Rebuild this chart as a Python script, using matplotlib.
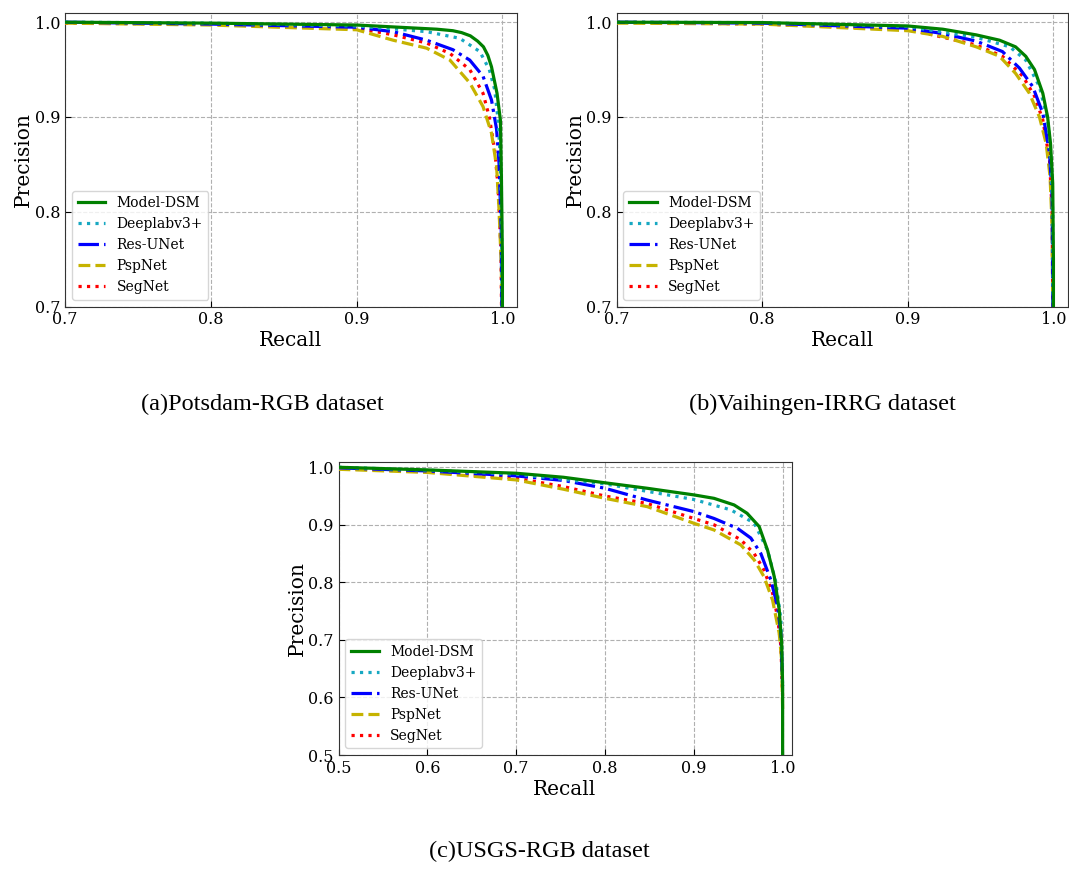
import matplotlib
matplotlib.use('Agg')
import matplotlib.pyplot as plt

names = ['Model-DSM', 'Deeplabv3+', 'Res-UNet', 'PspNet', 'SegNet']
colors = ['green', '#17a8c2', 'blue', '#c6b300', 'red']
styles = ['-', ':', '-.', '--', ':']

# (a) Potsdam-RGB
dsm_a_r = [0.70, 0.80, 0.90, 0.925, 0.955, 0.966, 0.972, 0.978, 0.983, 0.987, 0.990, 0.9925, 0.9963, 0.9986,
           0.9993, 1.0, 1.0]
dsm_a_p = [1.000, 0.999, 0.997, 0.995, 0.9926, 0.991, 0.989, 0.9856, 0.980, 0.974, 0.965, 0.953, 0.925, 0.897,
           0.837, 0.75, 0.60]
deep_a_r = [0.70, 0.80, 0.90, 0.948, 0.9707, 0.9845, 0.991, 0.9947, 0.997, 0.9986, 0.9995, 1.0]
deep_a_p = [1.000, 0.999, 0.996, 0.990, 0.983, 0.969, 0.950, 0.929, 0.897, 0.855, 0.78, 0.60]
res_a_r = [0.70, 0.80, 0.90, 0.925, 0.948, 0.966, 0.9776, 0.9867, 0.9925, 0.996, 0.9977, 0.9992, 1.0]
res_a_p = [1.000, 0.998, 0.9947, 0.990, 0.981, 0.971, 0.960, 0.943, 0.918, 0.887, 0.851, 0.78, 0.60]
psp_a_r = [0.70, 0.80, 0.90, 0.925, 0.948, 0.964, 0.9776, 0.9867, 0.9925, 0.996, 0.9977, 0.9993, 1.0]
psp_a_p = [0.999, 0.997, 0.992, 0.981, 0.9726, 0.960, 0.936, 0.911, 0.883, 0.848, 0.802, 0.74, 0.60]
seg_a_r = [0.70, 0.80, 0.90, 0.925, 0.948, 0.964, 0.9776, 0.9867, 0.991, 0.9947, 0.997, 0.999, 1.0]
seg_a_p = [0.999, 0.998, 0.9937, 0.9867, 0.978, 0.967, 0.950, 0.925, 0.900, 0.865, 0.827, 0.76, 0.60]

# (b) Vaihingen-IRRG
dsm_b_r = [0.70, 0.80, 0.90, 0.924, 0.947, 0.963, 0.974, 0.981, 0.987, 0.9927, 0.996, 0.998, 0.9995, 1.0, 1.0]
dsm_b_p = [1.000, 0.9996, 0.996, 0.9926, 0.9866, 0.981, 0.974, 0.964, 0.950, 0.925, 0.900, 0.872, 0.830, 0.75, 0.60]
deep_b_r = [0.70, 0.80, 0.90, 0.947, 0.970, 0.981, 0.9904, 0.996, 0.998, 0.9995, 1.0]
deep_b_p = [1.000, 0.9995, 0.9954, 0.984, 0.974, 0.960, 0.932, 0.897, 0.865, 0.80, 0.60]
res_b_r = [0.70, 0.80, 0.90, 0.924, 0.947, 0.965, 0.9767, 0.9858, 0.9927, 0.9973, 0.9991, 1.0]
res_b_p = [1.000, 0.999, 0.9937, 0.988, 0.980, 0.969, 0.9515, 0.932, 0.904, 0.862, 0.816, 0.60]
psp_b_r = [0.70, 0.80, 0.90, 0.924, 0.947, 0.963, 0.974, 0.9835, 0.9904, 0.995, 0.9977, 0.9991, 1.0]
psp_b_p = [0.999, 0.998, 0.991, 0.985, 0.974, 0.964, 0.946, 0.925, 0.900, 0.872, 0.837, 0.785, 0.60]
seg_b_r = [0.70, 0.80, 0.90, 0.947, 0.965, 0.979, 0.987, 0.9927, 0.9973, 0.9991, 1.0]
seg_b_p = [1.000, 0.998, 0.9926, 0.976, 0.964, 0.943, 0.922, 0.897, 0.855, 0.80, 0.60]

# (c) USGS-RGB
dsm_c_r = [0.50, 0.60, 0.70, 0.7533, 0.80, 0.8475, 0.866, 0.90, 0.9228, 0.9454, 0.96, 0.9736, 0.983,
           0.9906, 0.9962, 0.9989, 1.0, 1.0]
dsm_c_p = [1.000, 0.9954, 0.9896, 0.9826, 0.973, 0.9635, 0.9594, 0.952, 0.946, 0.9345, 0.920, 0.897, 0.856,
           0.810, 0.752, 0.694, 0.62, 0.40]
deep_c_r = [0.50, 0.60, 0.70, 0.80, 0.90, 0.9416, 0.968, 0.983, 0.9925, 0.9981, 1.0]
deep_c_p = [1.000, 0.995, 0.988, 0.971, 0.944, 0.926, 0.903, 0.856, 0.80, 0.735, 0.62]
res_c_r = [0.50, 0.60, 0.70, 0.7533, 0.80, 0.8475, 0.90, 0.9228, 0.949, 0.9642, 0.9755, 0.9868, 0.9943, 0.9981, 1.0]
res_c_p = [0.999, 0.9936, 0.985, 0.977, 0.9635, 0.943, 0.923, 0.911, 0.894, 0.877, 0.850, 0.804, 0.758, 0.711, 0.62]
psp_c_r = [0.50, 0.60, 0.70, 0.7533, 0.80, 0.8475, 0.90, 0.9228, 0.953, 0.968, 0.979, 0.9887, 0.9962, 0.9989, 1.0]
psp_c_p = [0.9965, 0.991, 0.978, 0.9618, 0.946, 0.9316, 0.9027, 0.891, 0.865, 0.839, 0.81, 0.769, 0.711, 0.665, 0.58]
seg_c_r = [0.50, 0.60, 0.70, 0.7533, 0.80, 0.8475, 0.90, 0.9228, 0.953, 0.968, 0.979, 0.9887, 0.9943, 0.9981, 1.0]
seg_c_p = [0.998, 0.9925, 0.981, 0.9664, 0.950, 0.937, 0.911, 0.900, 0.874, 0.850, 0.8216, 0.781, 0.74, 0.688, 0.60]

captions = ['(a)Potsdam-RGB dataset', '(b)Vaihingen-IRRG dataset', '(c)USGS-RGB dataset']

plt.rcParams['font.family'] = 'DejaVu Serif'


def panel(ax, curves, xlo, ylo, ticks):
    # draw back to front so the green line sits on top
    for i in [3, 4, 2, 1, 0]:
        r, p = curves[i]
        ax.plot(r, p, color=colors[i], linestyle=styles[i], linewidth=2.3, label=names[i], zorder=3 + (4 - i))
    ax.set_xlim(xlo, 1.01)
    ax.set_ylim(ylo, 1.01)
    ax.set_xticks(ticks[0])
    ax.set_yticks(ticks[1])
    ax.tick_params(direction='in', labelsize=11.5, length=4)
    ax.grid(True, linestyle='--', color='#b0b0b0', linewidth=0.8)
    for s in ax.spines.values():
        s.set_color('#333333')
    ax.set_xlabel('Recall', fontsize=14.5, labelpad=2)
    ax.set_ylabel('Precision', fontsize=14.5, labelpad=1)
    h, l = ax.get_legend_handles_labels()
    order = [l.index(n) for n in names]
    ax.legend([h[k] for k in order], [l[k] for k in order], loc='lower left', fontsize=10)


fig = plt.figure(figsize=(10.69, 8.72), dpi=100)
W, H = 1069, 872


def add_ax(x0, x1, y0, y1):
    return fig.add_axes([x0 / W, 1 - y1 / H, (x1 - x0) / W, (y1 - y0) / H])


ax_a = add_ax(65, 517, 12.7, 306.6)
ax_b = add_ax(616.5, 1068, 12.7, 306.6)
ax_c = add_ax(338.5, 791.5, 461.5, 755)

t1 = ([0.7, 0.8, 0.9, 1.0], [0.7, 0.8, 0.9, 1.0])
t2 = ([0.5, 0.6, 0.7, 0.8, 0.9, 1.0], [0.5, 0.6, 0.7, 0.8, 0.9, 1.0])

panel(ax_a, [(dsm_a_r, dsm_a_p), (deep_a_r, deep_a_p), (res_a_r, res_a_p), (psp_a_r, psp_a_p),
             (seg_a_r, seg_a_p)], 0.7, 0.7, t1)
panel(ax_b, [(dsm_b_r, dsm_b_p), (deep_b_r, deep_b_p), (res_b_r, res_b_p), (psp_b_r, psp_b_p),
             (seg_b_r, seg_b_p)], 0.7, 0.7, t1)
panel(ax_c, [(dsm_c_r, dsm_c_p), (deep_c_r, deep_c_p), (res_c_r, res_c_p), (psp_c_r, psp_c_p),
             (seg_c_r, seg_c_p)], 0.5, 0.5, t2)

cap_font = dict(fontsize=17.5, family='Liberation Serif', ha='center', va='center')
fig.text(262 / W, 1 - 404 / H, captions[0], **cap_font)
fig.text(822 / W, 1 - 404 / H, captions[1], **cap_font)
fig.text(539 / W, 1 - 851 / H, captions[2], **cap_font)

fig.savefig('out.png', dpi=100)
